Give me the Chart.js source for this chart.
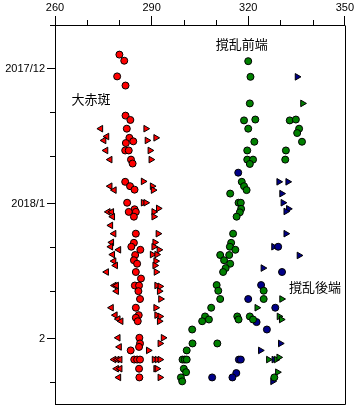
<!DOCTYPE html>
<html><head><meta charset="utf-8">
<script src="https://cdn.jsdelivr.net/npm/chart.js@4/dist/chart.umd.min.js"></script>
<style>html,body{margin:0;padding:0;background:#fff}</style>
</head><body>
<canvas id="c" width="355" height="415"></canvas>
<script>
// ---- axis ticks (y in days since 2017/12/1) ----
const xTickValues = [260,270,280,290,300,310,320,330,340,350];
const xMajorTicks = [260,290,320,350];
const yTickDays   = [-10,0,10,20,31,41,51,62,72];
const yTickLabels = ['','2017/12','','','2018/1','','','2',''];

// ---- series ----
const redCircleX = [280.0,281.5,279.3,281.9,281.9,283.4,282.3,283.1,284.3,282.0,281.8,282.9,283.6,284.1,281.8,283.3,284.7,282.4,284.7,285.1,282.9,284.5,285.1,284.5,283.7,286.5,284.9,284.5,285.5,285.1,286.7,284.8,286.1,285.9,286.4,285.1,286.0,285.1,285.7,286.2,286.4,286.1,283.5,284.6,285.5,286.4,286.1,286.2];
const redCircleY = [-3.2,-1.8,1.8,3.9,10.8,11.8,13.8,15.9,16.7,17.1,18.8,18.8,20.9,21.8,26.0,27.0,27.8,30.8,32.3,32.9,32.9,34.0,37.9,40.0,40.9,41.6,42.8,44.0,44.8,46.7,48.2,49.8,49.8,51.1,52.9,54.9,56.6,57.2,58.0,61.8,63.1,63.9,64.7,66.8,66.8,66.8,68.9,70.9];

const redLeftX = [274.2,276.1,275.2,275.8,277.1,277.1,278.4,276.5,277.6,277.9,277.3,278.3,277.6,277.3,279.8,277.9,278.3,278.8,276.0,278.4,279.1,279.1,277.5,278.7,279.6,280.5,279.6,280.0,278.3,279.3,280.2,279.1,280.2,279.8];
const redLeftY = [13.8,15.6,16.5,18.8,20.9,27.0,27.9,32.9,32.9,34.0,36.0,37.9,39.9,40.9,41.6,42.7,44.2,45.2,46.7,49.8,49.8,51.1,54.9,56.6,57.5,58.0,61.8,63.9,66.8,66.8,66.8,68.9,68.9,70.9];

const redRightX = [288.2,288.6,291.3,289.5,289.8,287.4,290.2,290.5,287.4,288.2,290.7,292.1,290.7,292.0,291.0,290.7,292.3,290.2,291.6,291.3,291.0,291.4,291.6,292.6,292.4,292.8,291.3,291.6,292.6,292.4,293.6,292.6,289.0,290.8,291.7,292.6,291.3,291.7,292.6];
const redRightY = [13.8,16.5,15.9,18.8,20.9,25.9,27.0,27.9,30.8,30.8,32.9,32.1,34.0,37.9,39.9,40.9,41.6,42.7,42.7,44.2,45.2,46.7,49.8,50.0,51.1,52.9,54.9,56.6,56.9,58.0,61.8,63.1,64.7,66.8,66.8,66.8,68.9,68.9,70.9];

const greenCircleX = [320.0,320.7,320.5,318.7,322.2,320.0,332.9,334.8,335.8,335.2,321.9,336.7,319.7,331.7,319.7,321.5,320.5,331.5,318.0,318.7,319.5,314.4,317.0,317.7,317.8,317.4,316.4,315.3,314.7,314.3,316.0,311.3,314.1,312.5,314.4,313.0,312.2,310.2,310.7,324.8,311.3,324.8,308.5,306.6,305.7,307.8,316.6,317.0,320.5,321.5,302.6,302.7,310.4,300.9,299.6,300.3,300.9,300.0,300.7,299.1,299.5,328.1];
const greenCircleY = [-1.7,1.9,8.0,11.9,11.7,13.8,11.9,11.7,13.8,14.8,16.8,16.8,18.8,18.8,20.9,20.9,21.9,20.9,26.0,27.0,27.9,28.7,30.8,30.8,32.2,33.0,34.0,37.9,40.0,40.9,41.6,42.8,42.8,44.0,44.8,45.8,46.7,49.7,51.0,51.0,52.9,52.9,54.9,56.9,58.0,57.6,56.9,57.6,56.9,57.6,59.9,63.1,63.1,64.7,66.8,66.8,66.8,68.9,69.7,70.9,71.8,70.9];

const greenTriX = [336.9,330.4,322.7,329.6,330.3,326.3,328.7,329.5,329.1];
const greenTriY = [8.0,52.9,54.9,56.9,57.6,66.8,66.8,66.3,69.7];

const blueCircleX = [316.9,329.3,330.5,324.0,320.0,328.4,322.6,325.8,317.1,317.7,308.8,316.3,315.1];
const blueCircleY = [23.9,40.9,46.7,49.7,52.9,54.9,58.2,59.9,66.8,66.8,70.9,69.9,70.9];

const blueTriX = [335.2,329.5,332.3,330.4,330.8,332.5,331.7,331.7,327.9,335.8,324.6,330.0,323.8,328.0,327.6];
const blueTriY = [1.9,26.0,26.0,28.7,30.8,32.2,32.8,37.9,40.9,42.9,45.8,63.1,64.7,66.8,71.8];

// ---- text annotations (data coordinates) ----
const noteTexts = ['大赤斑','撹乱前端','撹乱後端'];
const noteX = [271.2,318.0,340.7];
const noteY = [7.1,-5.7,50.1];

const RED='#ff0000', GREEN='#008000', BLUE='#000088';
const pts = (xs,ys)=>xs.map((x,i)=>({x:x,y:ys[i]}));
function circleSet(xs,ys,col){
  return {data:pts(xs,ys),pointStyle:'circle',pointRadius:3.5,backgroundColor:col,borderColor:'#000',borderWidth:1};
}
function triSet(xs,ys,col,rot){
  return {data:pts(xs,ys),pointStyle:'triangle',pointRotation:rot,pointRadius:3.8,backgroundColor:col,borderColor:'#000',borderWidth:1};
}

const tickFont = {family:'"Liberation Sans", Arial, sans-serif', size:11};

const decor = {
  id:'decor',
  afterDraw(chart){
    const {ctx, chartArea:a, scales:{x,y}} = chart;
    ctx.save();
    ctx.strokeStyle='#000'; ctx.lineWidth=1;
    ctx.beginPath();
    const R=Math.round(a.right)+0.5, B=Math.round(a.bottom)+0.5;
    const L=Math.round(a.left)+0.5, T=Math.round(a.top)+0.5;
    ctx.moveTo(R,T); ctx.lineTo(R,B); ctx.lineTo(L,B);
    xTickValues.forEach(v=>{
      if(xMajorTicks.includes(v)) return;
      const px=Math.round(x.getPixelForValue(v))+0.5;
      ctx.moveTo(px,a.top-5); ctx.lineTo(px,a.top);
    });
    yTickDays.forEach((v,i)=>{
      if(yTickLabels[i]) return;
      const py=Math.round(y.getPixelForValue(v))+0.5;
      ctx.moveTo(a.left-5,py); ctx.lineTo(a.left,py);
    });
    ctx.stroke();
    ctx.fillStyle='#000';
    ctx.font='13px "Noto Sans CJK JP", sans-serif';
    ctx.textAlign='center'; ctx.textBaseline='middle';
    noteTexts.forEach((t,i)=>{
      ctx.fillText(t, x.getPixelForValue(noteX[i]), y.getPixelForValue(noteY[i]));
    });
    ctx.restore();
  }
};

new Chart(document.getElementById('c'),{
  type:'scatter',
  data:{datasets:[
    circleSet(redCircleX,redCircleY,RED),
    triSet(redLeftX,redLeftY,RED,-90),
    triSet(redRightX,redRightY,RED,90),
    circleSet(greenCircleX,greenCircleY,GREEN),
    triSet(greenTriX,greenTriY,GREEN,90),
    circleSet(blueCircleX,blueCircleY,BLUE),
    triSet(blueTriX,blueTriY,BLUE,90)
  ]},
  options:{
    responsive:false, animation:false, devicePixelRatio:1,
    layout:{padding:{left:0,top:0,right:10,bottom:11}},
    plugins:{legend:{display:false},tooltip:{enabled:false}},
    scales:{
      x:{type:'linear',position:'top',min:260,max:350,
        afterBuildTicks(s){ s.ticks = xTickValues.map(v=>({value:v})); },
        afterFit(s){ s.height = 25; },
        ticks:{autoSkip:false,maxRotation:0,padding:1,color:'#000',font:tickFont,
          callback:(v)=> xMajorTicks.includes(v)? String(v) : ''},
        grid:{drawOnChartArea:false,drawTicks:true,tickLength:9,tickWidth:1,
          tickColor:(c)=> (c.tick && xMajorTicks.includes(c.tick.value)) ? '#000' : 'rgba(0,0,0,0)'},
        border:{display:true,color:'#000',width:1}
      },
      y:{type:'linear',position:'left',reverse:true,min:-10,max:77,
        afterBuildTicks(s){ s.ticks = yTickDays.map(v=>({value:v})); },
        afterFit(s){ s.width = 55; },
        ticks:{autoSkip:false,padding:2,color:'#000',font:tickFont,
          callback:(v)=>{ const i=yTickDays.indexOf(v); return i>=0? yTickLabels[i] : ''; }},
        grid:{drawOnChartArea:false,drawTicks:true,tickLength:8,tickWidth:1,
          tickColor:(c)=>{ if(!c.tick) return 'rgba(0,0,0,0)'; const i=yTickDays.indexOf(c.tick.value); return (i>=0 && yTickLabels[i]) ? '#000' : 'rgba(0,0,0,0)'; }},
        border:{display:true,color:'#000',width:1}
      }
    }
  },
  plugins:[decor]
});
</script>
</body></html>
